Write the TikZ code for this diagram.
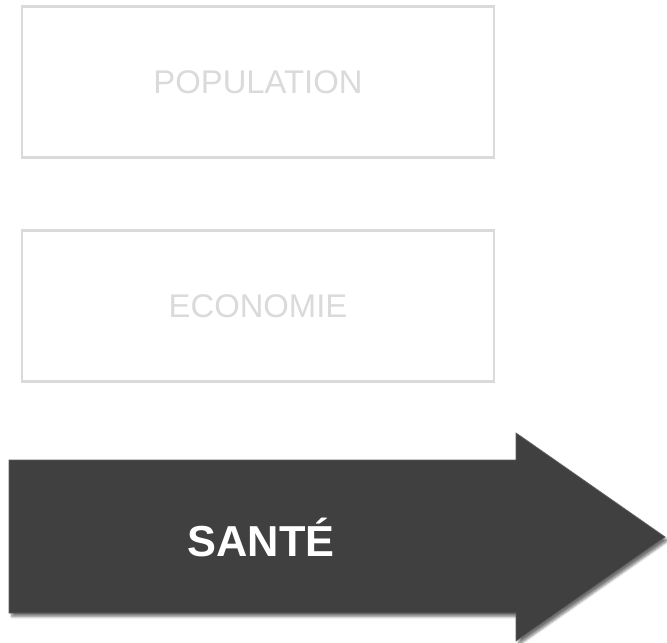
\documentclass[tikz,border=0pt]{standalone}
\usepackage{fontspec}
\setmainfont{Liberation Sans}
\usepackage{tikz}
\usetikzlibrary{shadows.blur}
\usepackage{xcolor}
\definecolor{boxgray}{HTML}{DADADA}
\definecolor{arrowgray}{HTML}{404040}

\begin{document}
\begin{tikzpicture}[
    x=0.03cm, y=-0.03cm,
    box/.style={rectangle,draw=boxgray,line width=2pt,minimum width=14.16cm,minimum height=4.53cm,text=boxgray,font=\fontsize{28}{31}\selectfont},
    bigarrow/.style={fill=arrowgray,draw=arrowgray!85,line width=0.6pt,blur shadow={shadow xshift=2.5pt,shadow yshift=-3pt,shadow blur steps=6,shadow opacity=55}},
    label/.style={text=white,font=\fontsize{37}{40}\selectfont\bfseries}
]
\useasboundingbox (0,0) rectangle (667,643);

% Boxes
\node[box] (population) at (258,82) {POPULATION};
\node[box] (economie) at (258,306) {ECONOMIE};

% Arrow
\filldraw[bigarrow] (9,460) -- (516,460) -- (516,433) -- (665,537) -- (516,641) -- (516,613) -- (9,613) -- cycle;
\node[label] (sante) at (261,537) {SANTÉ};

\end{tikzpicture}
\end{document}
